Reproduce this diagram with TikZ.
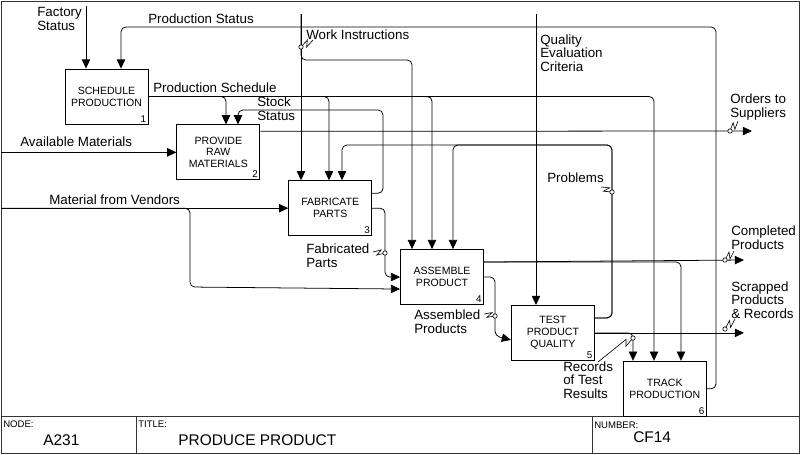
\documentclass[tikz,border=0pt]{standalone}
\usepackage{fontspec}
\setmainfont{Liberation Sans}
\usetikzlibrary{arrows.meta, positioning, calc}
\tikzset{every picture/.style={font=\fontsize{9.5}{9.8}\selectfont}}

% lightning-style label connector: label end, arrow point, zigzag position
\newcommand{\squig}[3][0.5]{%
  \draw[line width=0.45pt] (#2) -- ($(#2)!#1!(#3)!1.5pt!(#3)!2pt!90:(#3)$)
    -- ($(#2)!#1!(#3)!-1.5pt!(#3)!2pt!-90:(#3)$) -- (#3);
  \draw[line width=0.45pt, fill=white] (#3) circle[radius=0.55mm];}

\begin{document}
\begin{tikzpicture}[
  x=0.25mm, y=-0.25mm,
  actbox/.style={draw, line width=0.6pt, minimum width=20.75mm, minimum height=13.75mm,
    inner sep=1pt, align=center, font=\fontsize{7.5}{8.5}\selectfont},
  boxnum/.style={anchor=south east, inner sep=1.5pt, font=\fontsize{7}{8}\selectfont},
  flow/.style={line width=0.55pt, rounded corners=1.2mm, -{Triangle[length=2.3mm, width=2.1mm]}},
  lbl/.style={anchor=west, inner sep=0pt, align=left},
  frame/.style={line width=0.7pt, draw=black!80},
  tbhead/.style={anchor=west, inner sep=0pt, font=\fontsize{6.8}{8}\selectfont},
  tbtext/.style={anchor=west, inner sep=0pt, font=\fontsize{11}{13}\selectfont}
]
  \useasboundingbox (0,0) rectangle (800,454);

  % Frame and title block
  \draw[frame] (1,1) rectangle (799,453);
  \draw[frame] (1,416) -- (799,416);
  \draw[frame] (136,416) -- (136,453);
  \draw[frame] (592,416) -- (592,453);
  \node[tbhead] (nodehd) at (3,424) {NODE:};
  \node[tbtext] (nodeno) at (43,440) {A231};
  \node[tbhead] (titlehd) at (138,424) {TITLE:};
  \node[tbtext] (titletx) at (178,440) {PRODUCE PRODUCT};
  \node[tbhead] (numhd) at (594,425) {NUMBER:};
  \node[tbtext] (numtx) at (633,437) {CF14};

  % Activity boxes (staircase)
  \node[actbox, label={[boxnum]south east:1}] (sched) at (106.5,96.5) {SCHEDULE\\PRODUCTION};
  \node[actbox, label={[boxnum]south east:2}, below right=0mm and 7mm of sched] (prov) {PROVIDE\\RAW\\MATERIALS};
  \node[actbox, label={[boxnum]south east:3}, below right=0mm and 7mm of prov] (fab) {FABRICATE\\PARTS};
  \node[actbox, label={[boxnum]south east:4}, below right=3.25mm and 7mm of fab] (asm) {ASSEMBLE\\PRODUCT};
  \node[actbox, label={[boxnum]south east:5}, below right=0mm and 6.75mm of asm] (test) {TEST\\PRODUCT\\QUALITY};
  \node[actbox, label={[boxnum]south east:6}, below right=0mm and 7mm of test] (track) {TRACK\\PRODUCTION};

  % Boundary ends
  \coordinate (factin) at (86,6);
  \coordinate (workin) at (301,14);
  \coordinate (qualin) at (536,14);
  \coordinate (availin) at (1,0 |- prov.west);
  \coordinate (vendin) at (1,0 |- fab.west);
  \coordinate (ordout) at (752,131);
  \coordinate (compout) at (744,260);
  \coordinate (scrapout) at (744,0 |- test.east);

  % Controls from the top
  \draw[flow] (factin) -- (86,0 |- sched.north);
  \draw[flow] (track.east) -| (716,27) -| (121,0 |- sched.north);
  \draw[flow] (workin) -- (301,0 |- fab.north);
  \draw[flow] (workin) |- (412,60) -- (412,0 |- asm.north);
  \draw[flow] (qualin) -- (536,0 |- test.north);

  % Production schedule
  \foreach \xx/\dest in {226/prov, 329/fab, 432/asm, 654/track}
    \draw[flow] (sched.east) -| (\xx,0 |- \dest.north);

  % Stock status
  \draw[flow] ($(fab.east)+(0,-15)$) -| (383,110) -| (238,0 |- prov.north);

  % Inputs
  \draw[flow] (availin) -- (prov.west);
  \draw[flow] (vendin) -- (fab.west);
  \draw[flow] (vendin) -| (190,287) -- ($(asm.west)+(0,12)$);

  % Outputs
  \draw[flow] ($(prov.east)+(0,-21)$) -- (ordout);
  \draw[flow] (fab.east) -| (385,0 |- asm.west) -- (asm.west);
  \draw[flow] ($(asm.east)+(0,-15)$) -- (compout);
  \draw[flow] ($(asm.east)+(0,-15)$) -| (681,0 |- track.north);
  \draw[flow] (asm.east) -| (495,336) -- ($(test.west)+(0,7)$);
  \draw[flow] ($(test.east)+(0,-15)$) -| (612,145) -| (453,0 |- asm.north);
  \draw[flow] ($(test.east)+(0,-15)$) -| (612,145) -| (342,0 |- fab.north);
  \draw[flow] (test.east) -- (scrapout);
  \draw[flow] (test.east) -| (633,0 |- track.north);

  % Labels
  \node[lbl] (lfact) at (37,19) {Factory\\Status};
  \node[lbl] (lpstat) at (148,19) {Production Status};
  \node[lbl] (lwork) at (306,35) {Work Instructions};
  \node[lbl] (lqual) at (540,53) {Quality\\Evaluation\\Criteria};
  \node[lbl] (lpsched) at (153,88) {Production Schedule};
  \node[lbl] (lstock) at (257,109) {Stock\\Status};
  \node[lbl] (lorder) at (730,107) {Orders to\\Suppliers};
  \node[lbl] (lavail) at (20,142) {Available Materials};
  \node[lbl] (lprob) at (547,178) {Problems};
  \node[lbl] (lvend) at (49,200) {Material from Vendors};
  \node[lbl] (lfab) at (306,256) {Fabricated\\Parts};
  \node[lbl] (lcomp) at (731,238) {Completed\\Products};
  \node[lbl] (lscrap) at (731,300) {Scrapped\\Products\\\& Records};
  \node[lbl] (lasm) at (414,322) {Assembled\\Products};
  \node[lbl] (lrec) at (563,380) {Records\\of Test\\Results};

  % Label squiggles
  \coordinate (wkA) at (313,40);   \coordinate (wkB) at (301,47);
  \coordinate (orA) at (738,121);  \coordinate (orB) at (730,131);
  \coordinate (prA) at (601,187);  \coordinate (prB) at (612,192);
  \coordinate (fbA) at (373,252);  \coordinate (fbB) at (385,253);
  \coordinate (cpA) at (734,251);  \coordinate (cpB) at (725,260);
  \coordinate (asA) at (484,314);  \coordinate (asB) at (495,316);
  \coordinate (scA) at (735,319);  \coordinate (scB) at (725,329);
  \coordinate (rcA) at (598,362);  \coordinate (rcB) at (633,338);
  \squig{wkA}{wkB}
  \squig{orA}{orB}
  \squig{prA}{prB}
  \squig{fbA}{fbB}
  \squig{cpA}{cpB}
  \squig{asA}{asB}
  \squig{scA}{scB}
  \squig[0.8]{rcA}{rcB}
\end{tikzpicture}
\end{document}
